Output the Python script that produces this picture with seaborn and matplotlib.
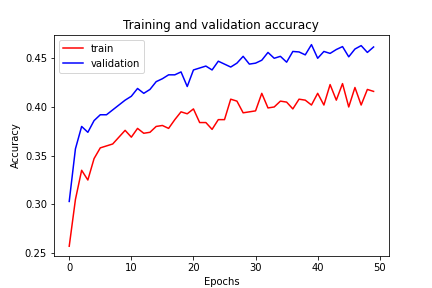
import matplotlib
matplotlib.use("Agg")
import matplotlib.pyplot as plt
import numpy as np
import pandas as pd
import seaborn as sns

# accuracy per epoch
train_acc = [0.257, 0.305, 0.335, 0.325, 0.347, 0.358, 0.360, 0.362, 0.369, 0.376,
             0.369, 0.378, 0.373, 0.374, 0.380, 0.381, 0.378, 0.387, 0.395, 0.393,
             0.398, 0.384, 0.384, 0.377, 0.387, 0.387, 0.408, 0.406, 0.394, 0.395,
             0.396, 0.414, 0.399, 0.400, 0.406, 0.405, 0.398, 0.408, 0.407, 0.402,
             0.414, 0.402, 0.423, 0.407, 0.424, 0.400, 0.420, 0.402, 0.418, 0.416]
val_acc = [0.303, 0.357, 0.380, 0.374, 0.386, 0.392, 0.392, 0.397, 0.402, 0.407,
           0.411, 0.419, 0.414, 0.418, 0.426, 0.429, 0.433, 0.433, 0.436, 0.421,
           0.438, 0.440, 0.442, 0.438, 0.447, 0.444, 0.441, 0.445, 0.452, 0.444,
           0.445, 0.448, 0.456, 0.450, 0.452, 0.446, 0.457, 0.4565, 0.4535, 0.464,
           0.450, 0.457, 0.455, 0.459, 0.462, 0.4515, 0.4595, 0.463, 0.456, 0.4616]
epochs = np.arange(len(train_acc))

df = pd.DataFrame({"epoch": np.concatenate([epochs, epochs]),
                   "accuracy": train_acc + val_acc,
                   "set": ["train"] * len(epochs) + ["validation"] * len(epochs)})

fig, ax = plt.subplots(figsize=(6, 4), dpi=72)
sns.lineplot(data=df, x="epoch", y="accuracy", hue="set",
             palette={"train": "red", "validation": "blue"}, ax=ax)
ax.legend(loc="upper left")
ax.set_title("Training and validation accuracy")
ax.set_xlabel("Epochs")
ax.set_ylabel("Accuracy")

plt.savefig("out.png", dpi=72)
